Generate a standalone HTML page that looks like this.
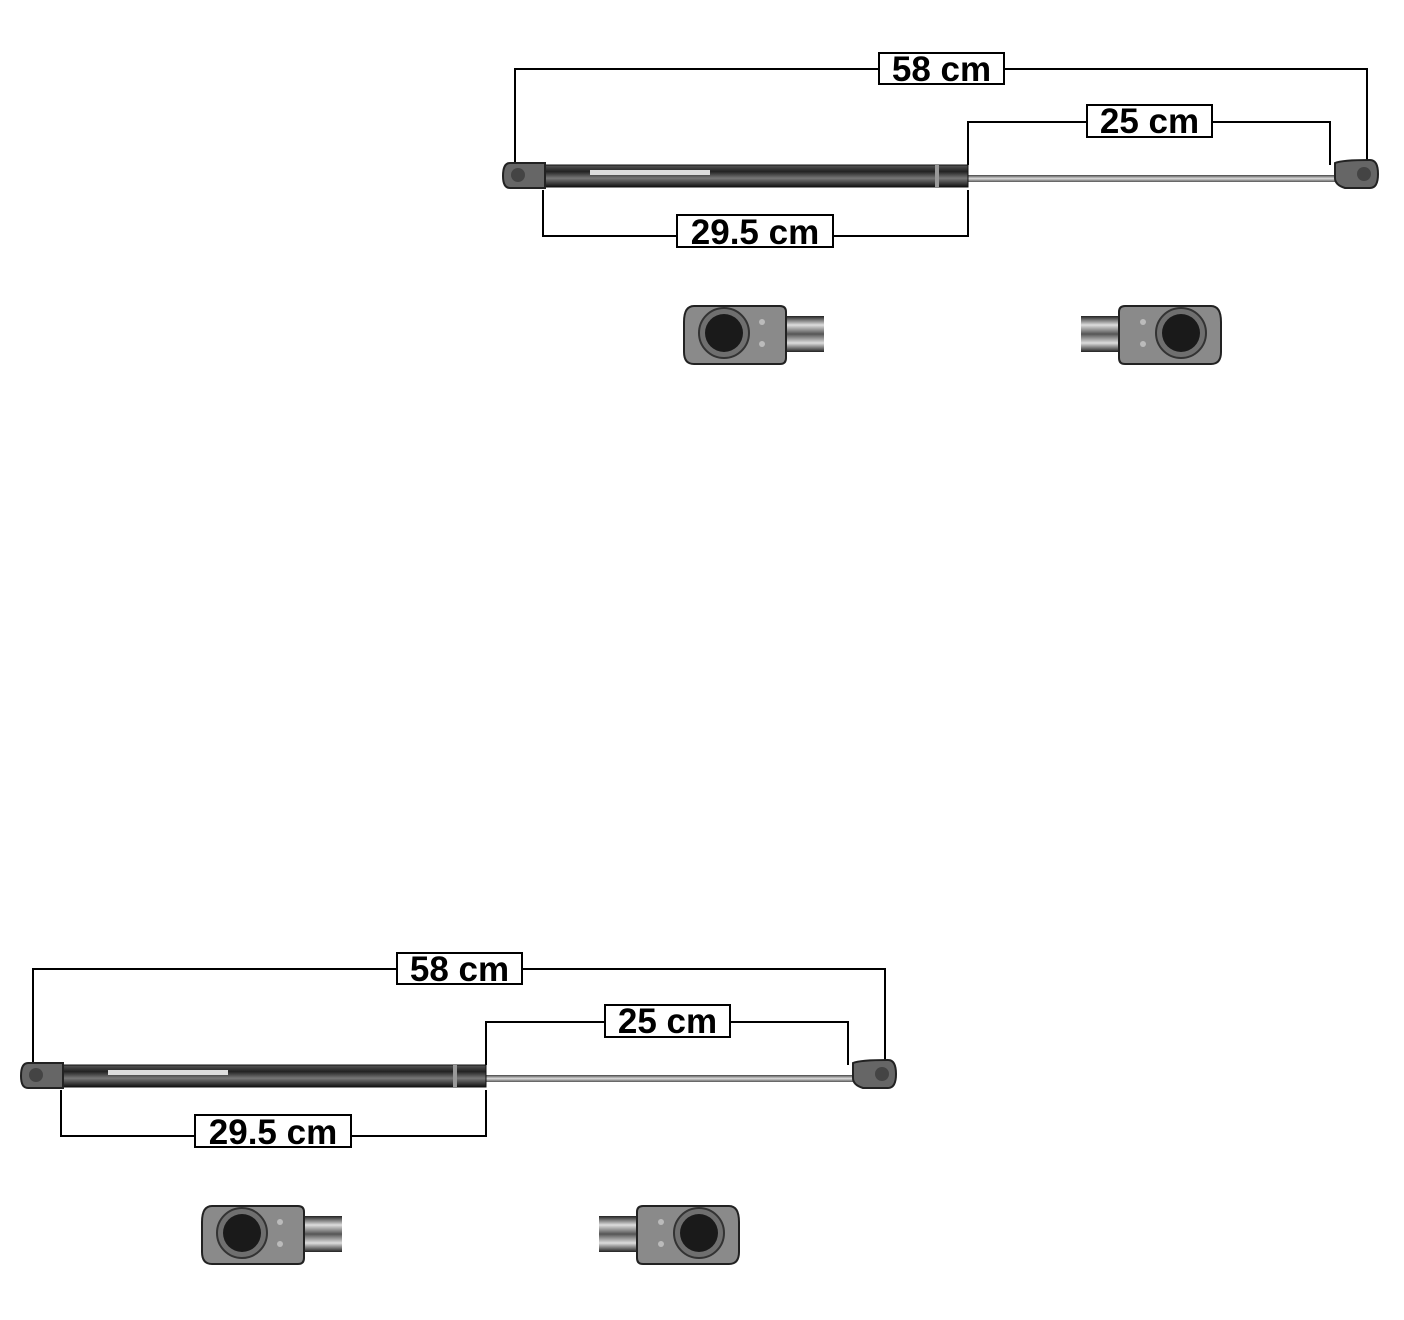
<!DOCTYPE html>
<html><head><style>
html,body{margin:0;padding:0;background:#fff;}
svg{display:block}
text{font-family:"Liberation Sans",sans-serif;font-weight:bold;font-size:35px;fill:#000}
</style></head><body>
<svg width="1404" height="1320" viewBox="0 0 1404 1320">
<defs>
<linearGradient id="body" x1="0" y1="0" x2="0" y2="1">
<stop offset="0" stop-color="#555"/><stop offset="0.3" stop-color="#222"/><stop offset="0.6" stop-color="#777"/><stop offset="1" stop-color="#111"/>
</linearGradient>
<linearGradient id="rod" x1="0" y1="0" x2="0" y2="1">
<stop offset="0" stop-color="#444"/><stop offset="0.5" stop-color="#ddd"/><stop offset="1" stop-color="#555"/>
</linearGradient>
<linearGradient id="rod2" x1="0" y1="0" x2="0" y2="1">
<stop offset="0" stop-color="#222"/><stop offset="0.25" stop-color="#ddd"/><stop offset="0.5" stop-color="#555"/><stop offset="0.75" stop-color="#ddd"/><stop offset="1" stop-color="#222"/>
</linearGradient>
<g id="fit">
<rect x="100" y="16" width="42" height="36" fill="url(#rod2)"/>
<path d="M12,6 H98 Q104,6 104,12 V58 Q104,64 98,64 H12 Q2,64 2,52 V22 Q2,6 12,6 Z" fill="#8a8a8a" stroke="#222" stroke-width="2"/>
<circle cx="42" cy="33" r="25" fill="#6f6f6f" stroke="#333" stroke-width="2"/>
<circle cx="42" cy="33" r="19" fill="#1a1a1a"/>
<circle cx="80" cy="22" r="3" fill="#bbb"/><circle cx="80" cy="44" r="3" fill="#bbb"/>
</g>
<g id="grp">
<g fill="none" stroke="#000" stroke-width="2">
<polyline points="515,165 515,69 1367,69 1367,162"/>
<polyline points="968,165 968,122 1330,122 1330,165"/>
<polyline points="543,190 543,236 968,236 968,190"/>
</g>
<rect x="968" y="175" width="367" height="7" fill="url(#rod)"/>
<rect x="545" y="165" width="423" height="22" fill="url(#body)" stroke="#111"/>
<rect x="590" y="170" width="120" height="5" fill="#ddd"/>
<rect x="935" y="165" width="4" height="22" fill="#999"/>
<path d="M510,163 H545 V188 H510 Q503,188 503,176 Q503,163 510,163Z" fill="#666" stroke="#222" stroke-width="2"/>
<circle cx="518" cy="175" r="7" fill="#444"/>
<path d="M1335,163 Q1342,160 1370,160 Q1378,160 1378,174 Q1378,188 1370,188 H1345 Q1335,185 1335,178Z" fill="#666" stroke="#222" stroke-width="2"/>
<circle cx="1364" cy="174" r="7" fill="#444"/>
<rect x="879" y="53" width="125" height="31" fill="#fff" stroke="#000" stroke-width="2"/>
<text x="941.5" y="81" text-anchor="middle">58 cm</text>
<rect x="1087" y="105" width="125" height="32" fill="#fff" stroke="#000" stroke-width="2"/>
<text x="1149.5" y="133" text-anchor="middle">25 cm</text>
<rect x="677" y="215" width="156" height="32" fill="#fff" stroke="#000" stroke-width="2"/>
<text x="755" y="244" text-anchor="middle">29.5 cm</text>
<use href="#fit" transform="translate(682,300)"/>
<use href="#fit" transform="translate(1223,300) scale(-1,1)"/>
</g>
</defs>
<use href="#grp"/>
<use href="#grp" transform="translate(-482,900)"/>
</svg>
</body></html>
